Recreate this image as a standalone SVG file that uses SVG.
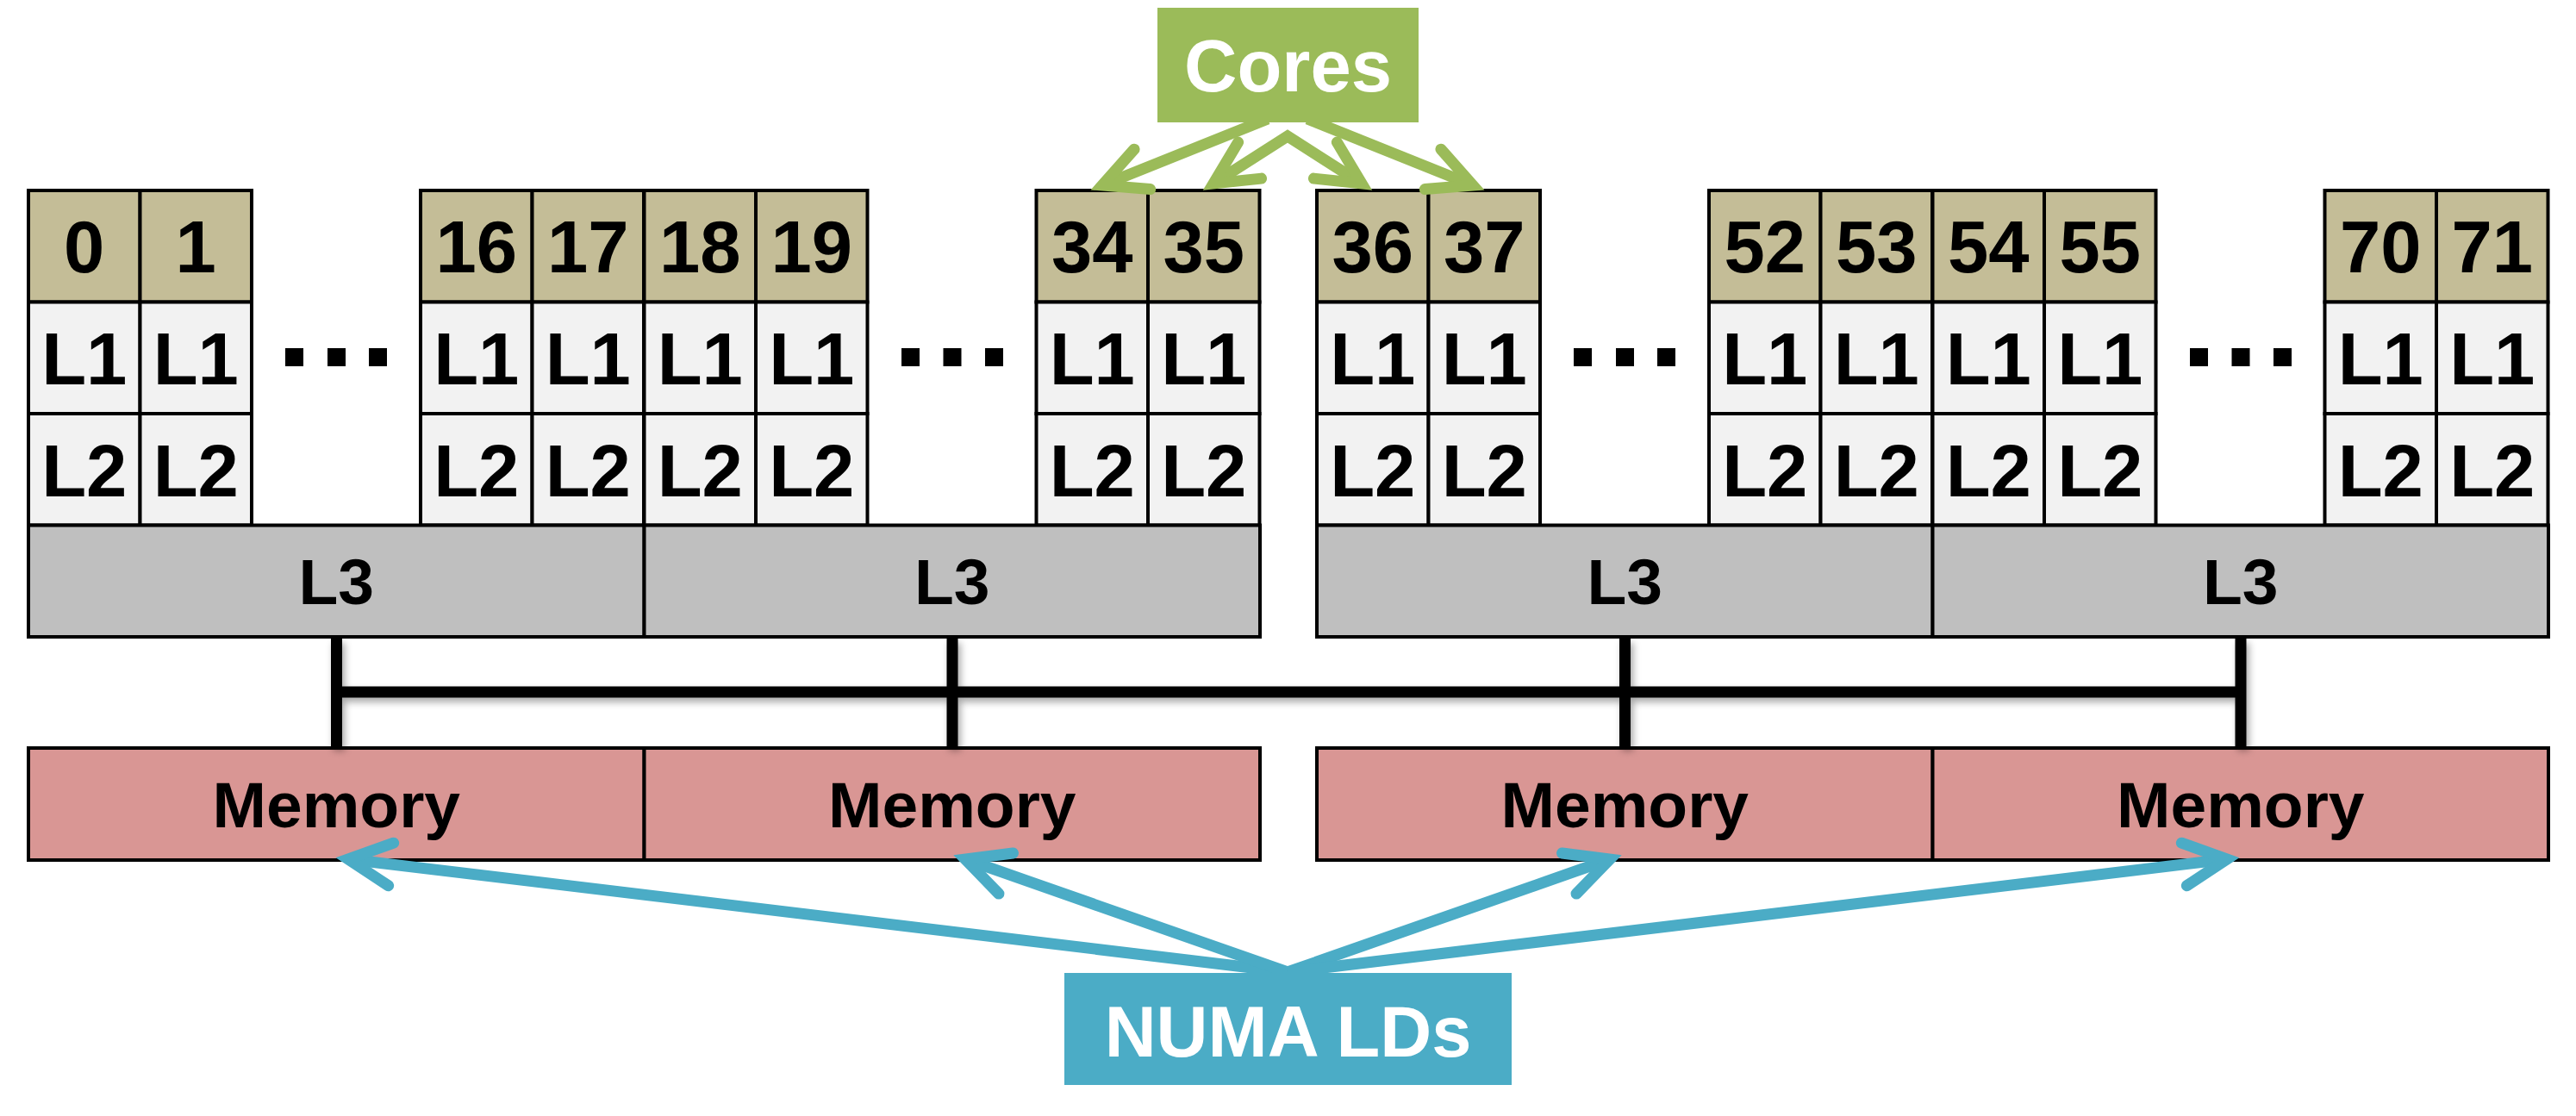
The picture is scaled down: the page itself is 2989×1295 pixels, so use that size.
<svg xmlns="http://www.w3.org/2000/svg" xmlns:xlink="http://www.w3.org/1999/xlink" width="2989" height="1295" viewBox="0 0 2989 1295">
<style>
  .core { fill: #c4bd97; stroke: #000; stroke-width: 4; }
  .cache { fill: #f2f2f2; stroke: #000; stroke-width: 4; }
  .l3 { fill: #bfbfbf; stroke: #000; stroke-width: 4; }
  .mem { fill: #d99694; stroke: #000; stroke-width: 4; }
  .t85 { font-family: "Liberation Sans", Arial, sans-serif; font-weight: bold; font-size: 85px; text-anchor: middle; fill: #000; }
  .t75 { font-family: "Liberation Sans", Arial, sans-serif; font-weight: bold; font-size: 75px; text-anchor: middle; fill: #000; }
  .lbl { font-family: "Liberation Sans", Arial, sans-serif; font-weight: bold; font-size: 85px; text-anchor: middle; fill: #fff; }
  .bus { stroke: #000; stroke-width: 13; fill: none; }
  .garr { stroke: #9bbb59; stroke-width: 13; fill: none; stroke-linejoin: miter; }
  .barr { stroke: #4bacc6; stroke-width: 13; fill: none; stroke-linejoin: miter; }
  .dot { fill: #000; }
</style>
<defs>
  <filter id="shadow" x="-20%" y="-20%" width="140%" height="140%">
    <feDropShadow dx="3" dy="5" stdDeviation="4" flood-color="#000" flood-opacity="0.35"/>
  </filter>
  <marker id="hg" markerUnits="userSpaceOnUse" orient="auto-start-reverse" markerWidth="200" markerHeight="200" refX="0" refY="0" viewBox="-100 -100 200 200" overflow="visible">
    <path d="M-50,-25 L0,0 L-50,25" fill="none" stroke="#9bbb59" stroke-width="13" stroke-linecap="round" stroke-linejoin="miter"/>
  </marker>
  <marker id="hb" markerUnits="userSpaceOnUse" orient="auto-start-reverse" markerWidth="200" markerHeight="200" refX="0" refY="0" viewBox="-100 -100 200 200" overflow="visible">
    <path d="M-50,-25 L0,0 L-50,25" fill="none" stroke="#4bacc6" stroke-width="13" stroke-linecap="round" stroke-linejoin="miter"/>
  </marker>
  <g id="cell">
    <rect class="core" x="0" y="221" width="129.5" height="129.5"/>
    <rect class="cache" x="0" y="350.5" width="129.5" height="129.5"/>
    <rect class="cache" x="0" y="480" width="129.5" height="129.5"/>
  </g>
</defs>
<rect x="0" y="0" width="2989" height="1295" fill="#fff"/>

<!-- Socket group 1 -->
<g id="core-0" transform="translate(33,0)"><use xlink:href="#cell"/><text class="t85" x="64.75" y="316">0</text><text class="t85" x="64.75" y="446">L1</text><text class="t85" x="64.75" y="575.5">L2</text></g>
<g id="core-1" transform="translate(162.5,0)"><use xlink:href="#cell"/><text class="t85" x="64.75" y="316">1</text><text class="t85" x="64.75" y="446">L1</text><text class="t85" x="64.75" y="575.5">L2</text></g>
<g id="core-16" transform="translate(488,0)"><use xlink:href="#cell"/><text class="t85" x="64.75" y="316">16</text><text class="t85" x="64.75" y="446">L1</text><text class="t85" x="64.75" y="575.5">L2</text></g>
<g id="core-17" transform="translate(617.5,0)"><use xlink:href="#cell"/><text class="t85" x="64.75" y="316">17</text><text class="t85" x="64.75" y="446">L1</text><text class="t85" x="64.75" y="575.5">L2</text></g>
<g id="dots-1"><rect class="dot" x="331" y="404" width="21" height="21"/><rect class="dot" x="380" y="404" width="21" height="21"/><rect class="dot" x="428" y="404" width="21" height="21"/></g>
<g id="l3-1"><rect class="l3" x="33" y="609.5" width="714.5" height="129.5"/><text class="t75" x="390.25" y="701">L3</text></g>

<!-- Socket group 2 -->
<g id="core-18" transform="translate(747.5,0)"><use xlink:href="#cell"/><text class="t85" x="64.75" y="316">18</text><text class="t85" x="64.75" y="446">L1</text><text class="t85" x="64.75" y="575.5">L2</text></g>
<g id="core-19" transform="translate(877,0)"><use xlink:href="#cell"/><text class="t85" x="64.75" y="316">19</text><text class="t85" x="64.75" y="446">L1</text><text class="t85" x="64.75" y="575.5">L2</text></g>
<g id="core-34" transform="translate(1202.5,0)"><use xlink:href="#cell"/><text class="t85" x="64.75" y="316">34</text><text class="t85" x="64.75" y="446">L1</text><text class="t85" x="64.75" y="575.5">L2</text></g>
<g id="core-35" transform="translate(1332,0)"><use xlink:href="#cell"/><text class="t85" x="64.75" y="316">35</text><text class="t85" x="64.75" y="446">L1</text><text class="t85" x="64.75" y="575.5">L2</text></g>
<g id="dots-2"><rect class="dot" x="1046" y="404" width="21" height="21"/><rect class="dot" x="1094.5" y="404" width="21" height="21"/><rect class="dot" x="1143" y="404" width="21" height="21"/></g>
<g id="l3-2"><rect class="l3" x="747.5" y="609.5" width="714.5" height="129.5"/><text class="t75" x="1104.75" y="701">L3</text></g>

<!-- Socket group 3 -->
<g id="core-36" transform="translate(1528,0)"><use xlink:href="#cell"/><text class="t85" x="64.75" y="316">36</text><text class="t85" x="64.75" y="446">L1</text><text class="t85" x="64.75" y="575.5">L2</text></g>
<g id="core-37" transform="translate(1657.5,0)"><use xlink:href="#cell"/><text class="t85" x="64.75" y="316">37</text><text class="t85" x="64.75" y="446">L1</text><text class="t85" x="64.75" y="575.5">L2</text></g>
<g id="core-52" transform="translate(1983,0)"><use xlink:href="#cell"/><text class="t85" x="64.75" y="316">52</text><text class="t85" x="64.75" y="446">L1</text><text class="t85" x="64.75" y="575.5">L2</text></g>
<g id="core-53" transform="translate(2112.5,0)"><use xlink:href="#cell"/><text class="t85" x="64.75" y="316">53</text><text class="t85" x="64.75" y="446">L1</text><text class="t85" x="64.75" y="575.5">L2</text></g>
<g id="dots-3"><rect class="dot" x="1826" y="404" width="21" height="21"/><rect class="dot" x="1875" y="404" width="21" height="21"/><rect class="dot" x="1923" y="404" width="21" height="21"/></g>
<g id="l3-3"><rect class="l3" x="1528" y="609.5" width="714.5" height="129.5"/><text class="t75" x="1885.25" y="701">L3</text></g>

<!-- Socket group 4 -->
<g id="core-54" transform="translate(2242.5,0)"><use xlink:href="#cell"/><text class="t85" x="64.75" y="316">54</text><text class="t85" x="64.75" y="446">L1</text><text class="t85" x="64.75" y="575.5">L2</text></g>
<g id="core-55" transform="translate(2372,0)"><use xlink:href="#cell"/><text class="t85" x="64.75" y="316">55</text><text class="t85" x="64.75" y="446">L1</text><text class="t85" x="64.75" y="575.5">L2</text></g>
<g id="core-70" transform="translate(2697.5,0)"><use xlink:href="#cell"/><text class="t85" x="64.75" y="316">70</text><text class="t85" x="64.75" y="446">L1</text><text class="t85" x="64.75" y="575.5">L2</text></g>
<g id="core-71" transform="translate(2827,0)"><use xlink:href="#cell"/><text class="t85" x="64.75" y="316">71</text><text class="t85" x="64.75" y="446">L1</text><text class="t85" x="64.75" y="575.5">L2</text></g>
<g id="dots-4"><rect class="dot" x="2541" y="404" width="21" height="21"/><rect class="dot" x="2589.5" y="404" width="21" height="21"/><rect class="dot" x="2638" y="404" width="21" height="21"/></g>
<g id="l3-4"><rect class="l3" x="2242.5" y="609.5" width="714.5" height="129.5"/><text class="t75" x="2599.75" y="701">L3</text></g>

<!-- Memory -->
<g id="mem-1"><rect class="mem" x="33" y="868" width="714.5" height="130"/><text class="t75" x="390.25" y="960">Memory</text></g>
<g id="mem-2"><rect class="mem" x="747.5" y="868" width="714.5" height="130"/><text class="t75" x="1104.75" y="960">Memory</text></g>
<g id="mem-3"><rect class="mem" x="1528" y="868" width="714.5" height="130"/><text class="t75" x="1885.25" y="960">Memory</text></g>
<g id="mem-4"><rect class="mem" x="2242.5" y="868" width="714.5" height="130"/><text class="t75" x="2599.75" y="960">Memory</text></g>

<!-- Connectors -->
<g id="connectors">
  <g id="interconnect" filter="url(#shadow)">
    <path class="bus" d="M384,803 H2606"/>
    <path class="bus" d="M390.5,741 V866"/>
    <path class="bus" d="M1105,741 V866"/>
    <path class="bus" d="M1885.5,741 V866"/>
    <path class="bus" d="M2600,741 V866"/>
  </g>
  <path class="garr" d="M1471,138 L1279,215" marker-end="url(#hg)"/>
  <path class="garr" d="M1408,213 L1494,158 L1580,213" marker-start="url(#hg)" marker-end="url(#hg)"/>
  <path class="garr" d="M1517,138 L1709,215" marker-end="url(#hg)"/>
  <path class="barr" d="M1494,1128 L404,997" marker-end="url(#hb)"/>
  <path class="barr" d="M1120,997 L1494,1128 L1868,997" marker-start="url(#hb)" marker-end="url(#hb)"/>
  <path class="barr" d="M1494,1128 L2584,997" marker-end="url(#hb)"/>
</g>

<!-- Labels -->
<g id="cores-label"><rect x="1343" y="9" width="303" height="133" fill="#9bbb59"/><text class="lbl" x="1494.5" y="106">Cores</text></g>
<g id="numa-label"><rect x="1235" y="1129" width="519" height="130" fill="#4bacc6"/><text class="lbl" x="1494.5" y="1226" style="font-size:83px">NUMA LDs</text></g>
</svg>
